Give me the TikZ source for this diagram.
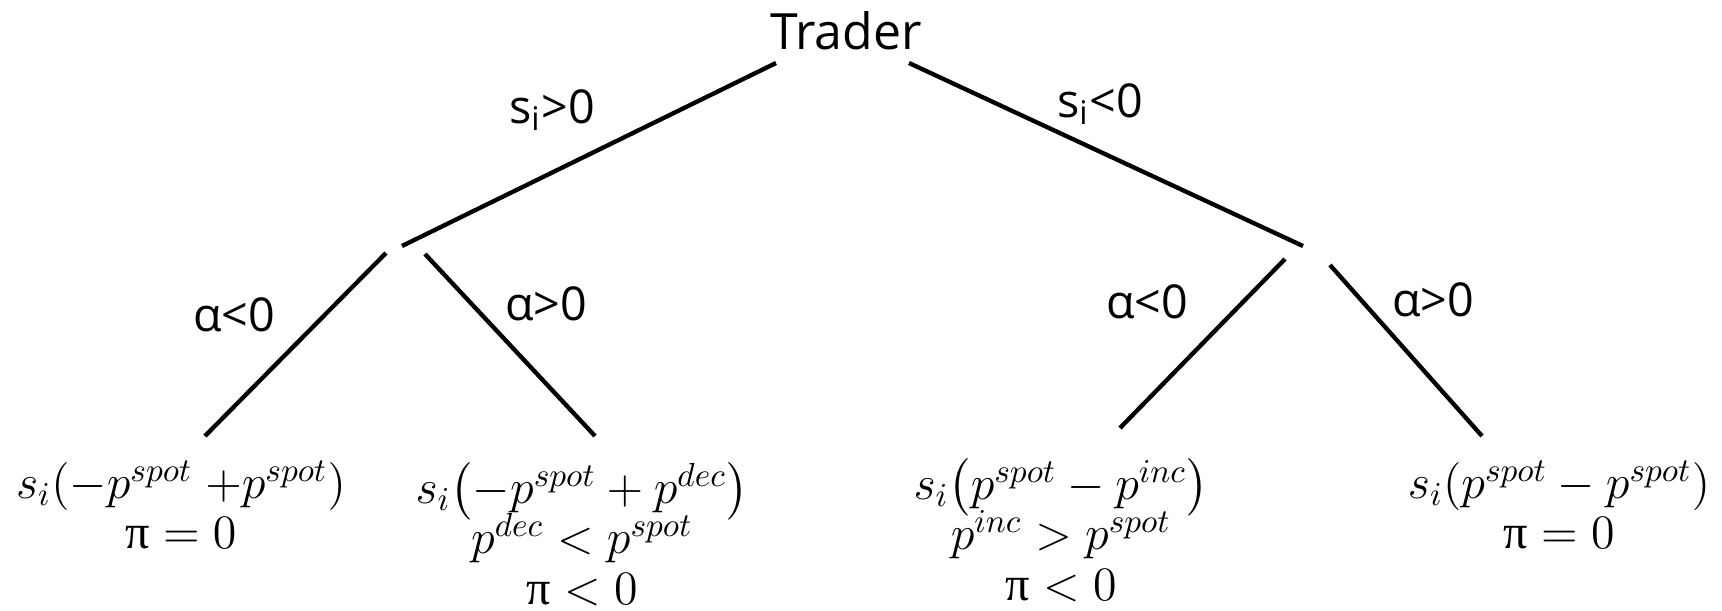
\documentclass[tikz,border=0pt]{standalone}
\usepackage{amsmath}
\usepackage{fontspec}
\setmainfont{Open Sans}
\newfontfamily\greekfont{Liberation Serif}
\usetikzlibrary{positioning}
\newcommand{\profit}{\text{\greekfont π}}
\newcommand{\leaffont}{\fontsize{14.5}{15.1}\selectfont\setlength{\lineskiplimit}{-20pt}}

\begin{document}
\begin{tikzpicture}[
    x=0.3pt, y=-0.3pt,
    branch/.style={line width=1.3pt},
    root/.style={font=\fontsize{15}{18}\selectfont, inner sep=0pt},
    cond/.style={font=\fontsize{14}{16}\selectfont, inner sep=0pt},
    leaf/.style={align=center, anchor=north, inner sep=0pt, font=\leaffont}
]
    \useasboundingbox (0,0) rectangle (1722,610);

    % Root
    \node (trader) [root] at (846,31) {Trader};

    % Branch ends
    \coordinate (rootL) at (776,63);
    \coordinate (rootR) at (909,63);
    \coordinate (sellEnd) at (402,246);
    \coordinate (buyEnd) at (1303,246);
    \coordinate (sellA) at (386,253);
    \coordinate (sellB) at (425,254);
    \coordinate (buyA) at (1285,259);
    \coordinate (buyB) at (1330,265);
    \coordinate (leafA) at (205,436);
    \coordinate (leafB) at (595,436);
    \coordinate (leafC) at (1120,428);
    \coordinate (leafD) at (1482,436);

    % Conditions
    \node (spos) [cond] at (552,110) {s\textsubscript{i}>0};
    \node (sneg) [cond] at (1100,104) {s\textsubscript{i}<0};
    \node (aneg1) [cond] at (234,315) {α<0};
    \node (apos1) [cond] at (546,304) {α>0};
    \node (aneg2) [cond] at (1147,302) {α<0};
    \node (apos2) [cond] at (1433,300) {α>0};

    % Payoffs
    \node (payA) [leaf] at (181,460) {$s_i(-p^{spot}\ {+}p^{spot})$\\$\profit=0$};
    \node (payB) [leaf] at (582,462) {$s_i\bigl(-p^{spot}+p^{dec}\bigr)$\\$p^{dec}<p^{spot}$\\$\profit<0$};
    \node (payC) [leaf] at (1061,458) {$s_i\bigl(p^{spot}-p^{inc}\bigr)$\\$p^{inc}>p^{spot}$\\$\profit<0$};
    \node (payD) [leaf] at (1559,460) {$s_i(p^{spot}-p^{spot})$\\$\profit=0$};

    % Branches
    \draw [branch] (rootL) -- (sellEnd);
    \draw [branch] (rootR) -- (buyEnd);
    \draw [branch] (sellA) -- (leafA);
    \draw [branch] (sellB) -- (leafB);
    \draw [branch] (buyA) -- (leafC);
    \draw [branch] (buyB) -- (leafD);
\end{tikzpicture}
\end{document}
